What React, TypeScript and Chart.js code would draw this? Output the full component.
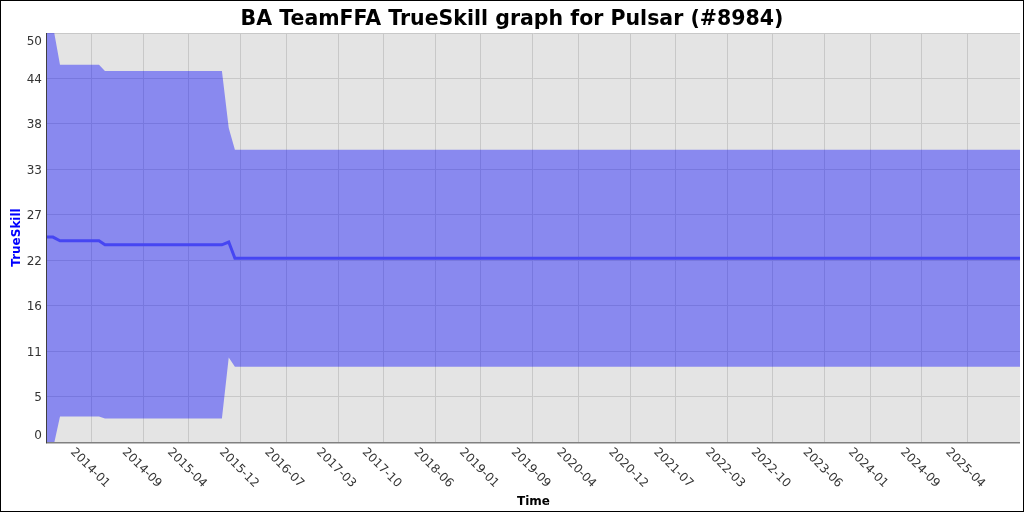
import React, { useEffect, useRef } from 'react';
import { Chart, registerables } from 'chart.js';

Chart.register(...registerables);

// ---- data ----
const pointDates = ['2013-06-04', '2013-07-02', '2013-08-04', '2014-02-03', '2014-03-03', '2015-09-03', '2015-10-05', '2015-11-03', '2025-12-05'];
const muValues = [24.77, 24.77, 24.33, 24.33, 23.84, 23.84, 24.17, 22.2, 22.2];
const upperValues = [52.8, 50.3, 45.6, 45.6, 44.85, 44.85, 37.95, 35.33, 35.33];
const lowerValues = [-3.3, -0.8, 3.08, 3.08, 2.85, 2.85, 10.22, 9.1, 9.1];

const xTickLabels = ['2014-01', '2014-09', '2015-04', '2015-12', '2016-07', '2017-03', '2017-10', '2018-06', '2019-01', '2019-09', '2020-04', '2020-12', '2021-07', '2022-03', '2022-10', '2023-06', '2024-01', '2024-09', '2025-04'];
const yTickValues = [0, 5.5, 11, 16.5, 22, 27.5, 33, 38.5, 44, 49.44];
const yTickLabels = ['0', '5', '11', '16', '22', '27', '33', '38', '44', '50'];

const xMinDate = '2013-06-04';
const xMaxDate = '2025-12-05';
const yMin = 0;
const yMax = 49.44;

const titleText = 'BA TeamFFA TrueSkill graph for Pulsar (#8984)';
const xTitle = 'Time';
const yTitle = 'TrueSkill';

const toMs = (d: string) => Date.parse(d + 'T00:00:00Z');
const xTickValues = xTickLabels.map((l) => toMs(l + '-01'));

const FONT = '"DejaVu Sans", sans-serif';

const decoPlugin = {
  id: 'deco',
  beforeDraw(chart: any) {
    const { ctx, chartArea: a } = chart;
    ctx.save();
    ctx.fillStyle = '#ffffff';
    ctx.fillRect(0, 0, chart.width, chart.height);
    ctx.fillStyle = '#E4E4E4';
    ctx.fillRect(a.left, a.top, a.right - a.left, a.bottom - a.top);
    ctx.restore();
  },
  afterDraw(chart: any) {
    const { ctx, chartArea: a, scales } = chart;
    ctx.save();
    // axis lines
    ctx.strokeStyle = '#808080';
    ctx.lineWidth = 1.5;
    ctx.beginPath();
    ctx.moveTo(a.left, a.bottom + 0.75);
    ctx.lineTo(a.right, a.bottom + 0.75);
    ctx.stroke();
    ctx.strokeStyle = '#404040';
    ctx.lineWidth = 1;
    ctx.beginPath();
    ctx.moveTo(a.left - 0.5, a.top);
    ctx.lineTo(a.left - 0.5, a.bottom + 1.5);
    ctx.stroke();

    // y tick labels
    ctx.fillStyle = '#333333';
    ctx.font = '12px ' + FONT;
    ctx.textAlign = 'right';
    ctx.textBaseline = 'middle';
    yTickValues.forEach((v, i) => {
      let py = scales.y.getPixelForValue(v) + 1.5;
      py = Math.min(Math.max(py, a.top + 8.5), a.bottom - 6);
      ctx.fillText(yTickLabels[i], a.left - 5, py);
    });

    // x tick labels (rotated 45deg clockwise)
    ctx.textAlign = 'center';
    ctx.textBaseline = 'middle';
    xTickValues.forEach((v, i) => {
      const px = scales.x.getPixelForValue(v);
      ctx.save();
      ctx.translate(px - 2, a.bottom + 26);
      ctx.rotate(Math.PI / 4);
      ctx.fillText(xTickLabels[i], 0, 0);
      ctx.restore();
    });

    // title
    ctx.fillStyle = '#000000';
    ctx.font = 'bold 20.5px ' + FONT;
    ctx.textAlign = 'center';
    ctx.textBaseline = 'alphabetic';
    ctx.fillText(titleText, chart.width / 2, 24.5);

    // x axis title
    ctx.font = 'bold 12px ' + FONT;
    ctx.fillText(xTitle, (a.left + a.right) / 2, 504.5);

    // y axis title
    ctx.save();
    ctx.fillStyle = '#0000FF';
    ctx.translate(20, (a.top + a.bottom) / 2);
    ctx.rotate(-Math.PI / 2);
    ctx.fillText(yTitle, 0, 0);
    ctx.restore();

    // outer border
    ctx.strokeStyle = '#000000';
    ctx.lineWidth = 1;
    ctx.strokeRect(0.5, 0.5, chart.width - 1, chart.height - 1);
    ctx.restore();
  },
};

export default function App() {
  const canvasRef = useRef<HTMLCanvasElement | null>(null);

  useEffect(() => {
    document.body.style.margin = '0';
    const canvas = canvasRef.current;
    if (!canvas) return;
    const xs = pointDates.map(toMs);
    const mk = (vals: number[]) => vals.map((v, i) => ({ x: xs[i], y: v }));

    const chart = new Chart(canvas, {
      type: 'line',
      data: {
        datasets: [
          {
            label: 'mu',
            data: mk(muValues),
            borderColor: '#4646F2',
            borderWidth: 3,
            pointRadius: 0,
            fill: false,
            tension: 0,
            order: 0,
          },
          {
            label: 'lower',
            data: mk(lowerValues),
            borderWidth: 0,
            borderColor: 'rgba(0,0,0,0)',
            pointRadius: 0,
            fill: false,
            tension: 0,
            order: 1,
          },
          {
            label: 'upper',
            data: mk(upperValues),
            borderWidth: 0,
            borderColor: 'rgba(0,0,0,0)',
            backgroundColor: 'rgba(0,0,255,0.4)',
            pointRadius: 0,
            fill: 1,
            tension: 0,
            order: 2,
          },
        ],
      },
      options: {
        animation: false,
        responsive: false,
        maintainAspectRatio: false,
        events: [],
        layout: { padding: { top: 33, right: 4, left: 0, bottom: 0 } },
        plugins: {
          legend: { display: false },
          title: { display: false },
          tooltip: { enabled: false },
        },
        scales: {
          x: {
            type: 'linear',
            min: toMs(xMinDate),
            max: toMs(xMaxDate),
            afterBuildTicks: (s: any) => {
              s.ticks = xTickValues.map((v) => ({ value: v }));
            },
            afterFit: (s: any) => {
              s.height = 70;
            },
            ticks: { display: false },
            grid: { color: '#C8C8C8', lineWidth: 1, drawTicks: false },
            border: { display: false },
          },
          y: {
            type: 'linear',
            min: yMin,
            max: yMax,
            afterBuildTicks: (s: any) => {
              s.ticks = yTickValues.map((v) => ({ value: v }));
            },
            afterFit: (s: any) => {
              s.width = 47;
            },
            ticks: { display: false },
            grid: { color: '#C8C8C8', lineWidth: 1, drawTicks: false },
            border: { display: false },
          },
        },
      },
      plugins: [decoPlugin],
    });
    return () => chart.destroy();
  }, []);

  return (
    <div style={{ position: 'fixed', left: 0, top: 0, width: 1024, height: 512 }}>
      <canvas ref={canvasRef} width={1024} height={512} style={{ width: 1024, height: 512, display: 'block' }} />
    </div>
  );
}
